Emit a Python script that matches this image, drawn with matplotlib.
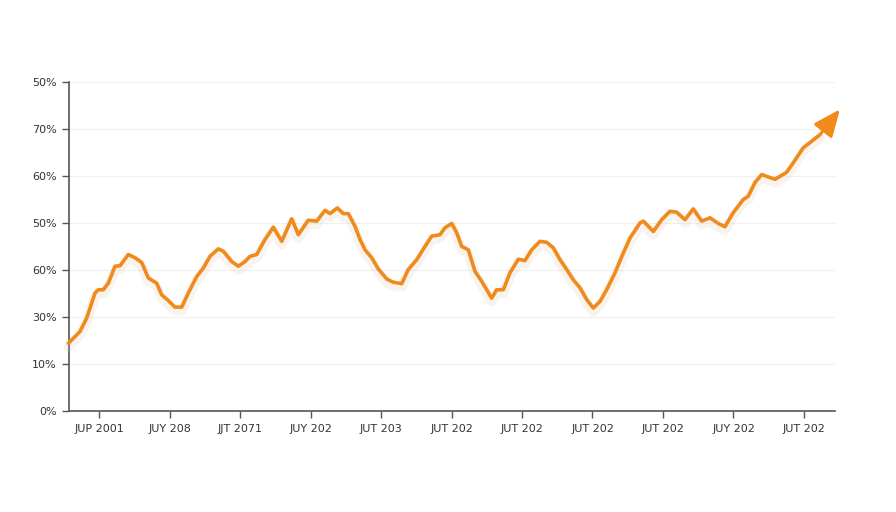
import matplotlib
matplotlib.use("Agg")
import matplotlib.pyplot as plt
import matplotlib.patheffects as pe
from matplotlib.patches import FancyArrowPatch

# data (x in tick-index units, y in percent)
x_vals = [-0.435, -0.27, -0.174, -0.057, -0.01, 0.061, 0.132, 0.227, 0.298, 0.416,
          0.511, 0.606, 0.699, 0.818, 0.889, 0.960, 1.078, 1.173, 1.267, 1.386,
          1.479, 1.574, 1.692, 1.763, 1.882, 1.976, 2.071, 2.142, 2.237, 2.355,
          2.472, 2.592, 2.733, 2.827, 2.969, 3.088, 3.206, 3.277, 3.380, 3.465,
          3.536, 3.631, 3.702, 3.773, 3.868, 3.962, 4.081, 4.174, 4.294, 4.387,
          4.506, 4.624, 4.719, 4.837, 4.908, 5.003, 5.074, 5.145, 5.238, 5.333,
          5.428, 5.570, 5.641, 5.735, 5.830, 5.948, 6.043, 6.138, 6.255, 6.350,
          6.444, 6.539, 6.634, 6.728, 6.823, 6.918, 7.011, 7.106, 7.201, 7.319,
          7.437, 7.532, 7.674, 7.721, 7.863, 7.982, 8.099, 8.194, 8.312, 8.430,
          8.549, 8.667, 8.784, 8.879, 8.997, 9.139, 9.210, 9.305, 9.400, 9.589,
          9.755, 9.848, 9.990, 10.109, 10.227]
y_vals = [14.4, 16.9, 19.8, 25.1, 25.8, 25.8, 27.2, 30.8, 30.9, 33.3,
          32.6, 31.6, 28.3, 27.2, 24.7, 23.8, 22.1, 22.1, 25.1, 28.6,
          30.4, 32.9, 34.5, 34.0, 31.8, 30.8, 31.8, 32.9, 33.3, 36.5,
          39.1, 36.1, 40.9, 37.5, 40.6, 40.4, 42.7, 42.0, 43.2, 42.0,
          42.0, 39.3, 36.5, 34.3, 32.6, 30.2, 28.1, 27.4, 27.1, 30.1,
          32.2, 35.0, 37.2, 37.5, 39.0, 39.9, 37.9, 35.0, 34.3, 29.7,
          27.6, 24.0, 25.8, 25.8, 29.4, 32.3, 32.0, 34.3, 36.1, 35.9,
          34.7, 32.2, 30.1, 27.9, 26.2, 23.7, 21.9, 23.3, 25.8, 29.4,
          33.6, 36.8, 40.0, 40.4, 38.2, 40.7, 42.5, 42.3, 40.7, 43.0,
          40.4, 41.1, 39.9, 39.2, 42.2, 45.0, 45.7, 48.6, 50.3, 49.3,
          50.8, 52.8, 56.0, 57.4, 58.8]
arrow_tip = (10.51, 64.2)

x_ticks = list(range(11))
x_labels = ["JUP 2001", "JUY 208", "JJT 2071", "JUY 202", "JUT 203", "JUT 202",
            "JUT 202", "JUT 202", "JUT 202", "JUY 202", "JUT 202"]
y_ticks = [0, 10, 20, 30, 40, 50, 60, 70]
y_labels = ["0%", "10%", "30%", "60%", "50%", "60%", "70%", "50%"]

color = "#F08A1C"

fig = plt.figure(figsize=(8.96, 5.12), dpi=100)
ax = fig.add_axes([69/896, 1 - 411/512, (835 - 69)/896, (411 - 82)/512])

ax.plot(x_vals, y_vals, color=color, lw=2.6, solid_capstyle="round",
        solid_joinstyle="round", clip_on=False, zorder=3,
        path_effects=[pe.SimpleLineShadow(offset=(0, -2.5), shadow_color="#e0c0a0",
                                          alpha=0.18, linewidth=7),
                      pe.Normal()])
arrow = FancyArrowPatch((x_vals[-1], y_vals[-1]), arrow_tip,
                        arrowstyle="-|>,head_length=0.75,head_width=0.32",
                        mutation_scale=22, color=color, lw=2.2,
                        shrinkA=0, shrinkB=0, joinstyle="round",
                        clip_on=False, zorder=4)
ax.add_patch(arrow)

ax.set_xlim(-0.426, 10.44)
ax.set_ylim(0, 70)
ax.set_xticks(x_ticks)
ax.set_xticklabels(x_labels)
ax.set_yticks(y_ticks)
ax.set_yticklabels(y_labels)

for s in ["top", "right"]:
    ax.spines[s].set_visible(False)
for s in ["left", "bottom"]:
    ax.spines[s].set_color("#555555")
    ax.spines[s].set_linewidth(1.2)

ax.tick_params(axis="both", colors="#555555", labelcolor="#333333",
               labelsize=8, length=5, width=1)
ax.tick_params(axis="x", pad=4)
ax.tick_params(axis="y", pad=4)
ax.yaxis.grid(True, color="#f0f0f0", lw=0.8)
ax.set_axisbelow(True)

fig.savefig("out.png", dpi=100)
